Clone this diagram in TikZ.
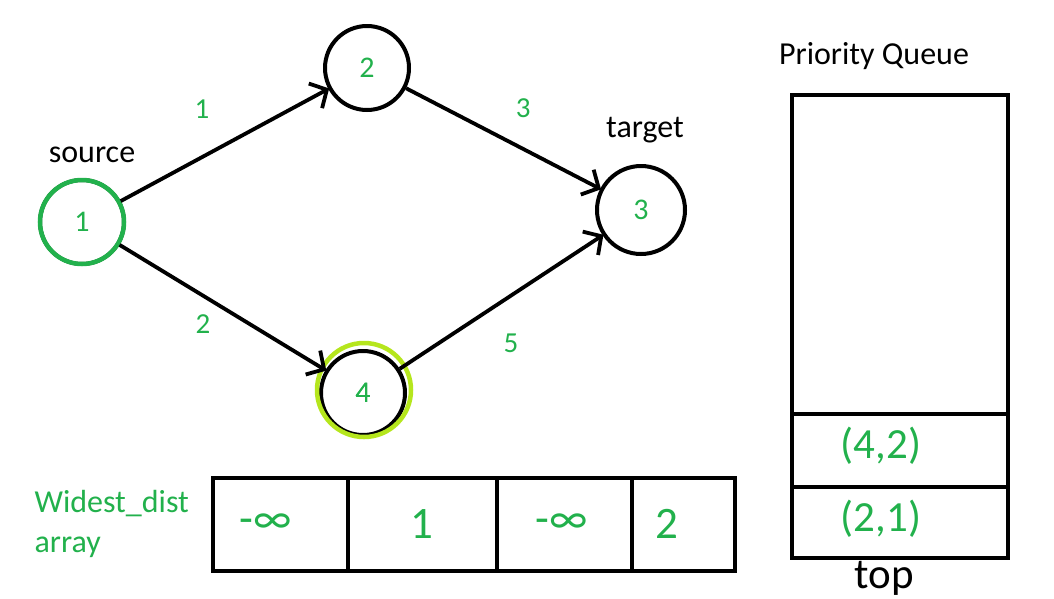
\documentclass[tikz,border=0pt]{standalone}
\usepackage{fontspec}
\setmainfont{Carlito}
\usetikzlibrary{arrows.meta,positioning}
\definecolor{pgreen}{RGB}{34,177,76}
\definecolor{lime}{RGB}{181,230,29}
\tikzset{
  vertex/.style={circle, draw=black, line width=4pt, minimum size=84pt, inner sep=0pt, text=pgreen, font=\fontsize{30}{30}\selectfont},
  edge/.style={line width=3.8pt, -{Straight Barb[length=13pt,width=28pt,line width=3.8pt]}, shorten >=-1pt},
  wlabel/.style={text=pgreen, font=\fontsize{29}{29}\selectfont},
  blabel/.style={text=black, font=\fontsize{32}{32}\selectfont},
  cell/.style={draw=black, line width=4.5pt, minimum height=93pt, inner sep=0pt},
  val/.style={text=pgreen, font=\fontsize{45}{45}\selectfont},
  qcell/.style={draw=black, line width=4.5pt, minimum width=216pt, inner sep=0pt},
}
\begin{document}
\begin{tikzpicture}[x=1pt,y=-1pt]
\useasboundingbox (0,0) rectangle (1054,598);
% vertices
\node[vertex] (n1) at (82,222) {1};
\draw[pgreen, line width=4.5pt] (n1.center) circle (42);
\node[vertex] (n2) at (367,68) {2};
\node[vertex, minimum size=88pt] (n3) at (641,210) {3};
\node[vertex] (n4) at (363,393) {4};
\draw[lime, line width=4.5pt] (364,390) circle (47);
\node[vertex, draw=none, fill=none] (n4t) at (363,393) {4};
% labels
\node[blabel] (src) at (92,155) {source};
\node[blabel] (tgt) at (645,130) {target};
% edges
\draw[edge] (n1) -- (n2) coordinate[pos=0.43] (m12);
\draw[edge] (n1) -- (n4) coordinate[pos=0.43] (m14);
\draw[edge] (n2) -- (n3) coordinate[pos=0.5] (m23);
\draw[edge] (n4) -- (n3) coordinate[pos=0.45] (m43);
\node[wlabel] (w12) at ([shift={(-8,-44)}]m12) {1};
\node[wlabel] (w14) at ([shift={(-5,25)}]m14) {2};
\node[wlabel] (w23) at ([shift={(20,-30)}]m23) {3};
\node[wlabel] (w43) at ([shift={(20,35)}]m43) {5};
% array
\node[cell, minimum width=135pt] (a1) at (280.5,524.5) {};
\node[cell, minimum width=149pt] (a2) at (422.5,524.5) {};
\node[cell, minimum width=135pt] (a3) at (564.5,524.5) {};
\node[cell, minimum width=103pt] (a4) at (683.5,524.5) {};
\node[val] (v1) at (266,524) {-∞};
\node[val] (v2) at (422,524) {1};
\node[val] (v3) at (562,524) {-∞};
\node[val] (v4) at (667,524) {2};
\node[wlabel, font=\fontsize{32}{40}\selectfont, align=left, anchor=west] (wd) at (31,524) {Widest\_dist\\array};
% priority queue
\node[qcell, minimum height=319pt] (q0) at (900,254.5) {};
\node[qcell, minimum height=73pt] (q1) at (900,450.5) {};
\node[qcell, minimum height=71pt] (q2) at (900,522.5) {};
\node[val, font=\fontsize{43}{43}\selectfont] (p1) at (881,446) {(4,2)};
\node[val, font=\fontsize{43}{43}\selectfont] (p2) at (881,519) {(2,1)};
\node[blabel] (pq) at (874,56) {Priority Queue};
\node[blabel, font=\fontsize{43}{43}\selectfont] (top) at (884,578) {top};
\end{tikzpicture}
\end{document}
